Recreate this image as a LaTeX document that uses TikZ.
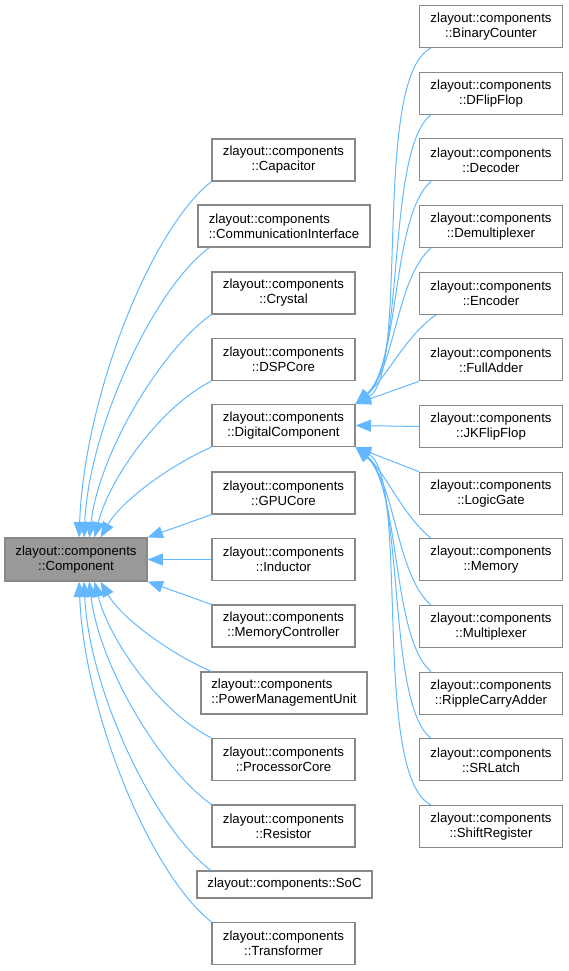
\documentclass[tikz,border=0pt]{standalone}
\usepackage{fontspec}
\setmainfont{Liberation Sans}
\usetikzlibrary{arrows.meta}

\definecolor{edgeblue}{HTML}{63B8FF}
\definecolor{boxgray}{HTML}{888888}
\definecolor{basegray}{HTML}{999999}

\tikzset{
	cls/.style={draw=boxgray, line width=0.9pt, fill=white, minimum width=107.25pt, minimum height=31.5pt, inner sep=0pt, align=center},
	inh/.style={draw=edgeblue, line width=0.75pt, -{Triangle[length=11.5pt,width=9pt]}}
}

\begin{document}
\begin{tikzpicture}[x=0.75pt, y=-0.75pt, font=\fontsize{9.9}{11.25}\selectfont]
		\useasboundingbox (0,0) rectangle (568,971);
		\node[cls, fill=basegray, minimum width=106.5pt, minimum height=32.25pt] (comp) at (76,559.5) {zlayout::components\\::Component};
		\node[cls] (cap) at (283.5,160) {zlayout::components\\::Capacitor};
		\node[cls, minimum width=129pt, align=left] (ci) at (284,226) {zlayout::components\\::CommunicationInterface};
		\node[cls] (cry) at (283.5,293) {zlayout::components\\::Crystal};
		\node[cls] (dsp) at (283.5,359.5) {zlayout::components\\::DSPCore};
		\node[cls] (dig) at (283.5,425.5) {zlayout::components\\::DigitalComponent};
		\node[cls] (gpu) at (283.5,493) {zlayout::components\\::GPUCore};
		\node[cls] (ind) at (283.5,559.5) {zlayout::components\\::Inductor};
		\node[cls] (mc) at (283.5,626) {zlayout::components\\::MemoryController};
		\node[cls, minimum width=124.5pt, align=left] (pmu) at (284,693) {zlayout::components\\::PowerManagementUnit};
		\node[cls] (pc) at (283.5,759.5) {zlayout::components\\::ProcessorCore};
		\node[cls] (res) at (283.5,826) {zlayout::components\\::Resistor};
		\node[cls, minimum width=131.25pt, minimum height=20.25pt] (soc) at (284.5,884.5) {zlayout::components::SoC};
		\node[cls] (tra) at (283.5,943.5) {zlayout::components\\::Transformer};
		\node[cls] (bc) at (491,26.5) {zlayout::components\\::BinaryCounter};
		\node[cls] (dff) at (491,93.2) {zlayout::components\\::DFlipFlop};
		\node[cls] (dec) at (491,159.8) {zlayout::components\\::Decoder};
		\node[cls] (dmx) at (491,226.5) {zlayout::components\\::Demultiplexer};
		\node[cls] (enc) at (491,293.2) {zlayout::components\\::Encoder};
		\node[cls] (fa) at (491,359.8) {zlayout::components\\::FullAdder};
		\node[cls] (jk) at (491,426.5) {zlayout::components\\::JKFlipFlop};
		\node[cls] (lg) at (491,493.2) {zlayout::components\\::LogicGate};
		\node[cls] (mem) at (491,559.8) {zlayout::components\\::Memory};
		\node[cls] (mux) at (491,626.5) {zlayout::components\\::Multiplexer};
		\node[cls] (rca) at (491,693.2) {zlayout::components\\::RippleCarryAdder};
		\node[cls] (srl) at (491,759.8) {zlayout::components\\::SRLatch};
		\node[cls] (sr) at (491,826.5) {zlayout::components\\::ShiftRegister};
		\draw[inh] (cap.south west) .. controls +(-62,49) and +(5,-138) .. (comp.82);
		\draw[inh] ([xshift=9pt]ci.south west) .. controls +(-55,40) and +(5,-110) .. (comp.70);
		\draw[inh] (cry.south west) .. controls +(-50,35) and +(10,-85) .. (comp.59);
		\draw[inh] (dsp.south west) .. controls +(-50,25) and +(15,-60) .. (comp.50);
		\draw[inh] (dig.south west) .. controls +(-45,20) and +(20,-35) .. (comp.42);
		\draw[inh] (gpu.south west) -- (comp.north east);
		\draw[inh] (ind.west) -- (comp.east);
		\draw[inh] (mc.north west) -- (comp.south east);
		\draw[inh] ([xshift=8pt]pmu.north west) .. controls +(-45,-20) and +(20,35) .. (comp.-42);
		\draw[inh] (pc.north west) .. controls +(-50,-25) and +(15,60) .. (comp.-50);
		\draw[inh] (res.north west) .. controls +(-50,-35) and +(10,85) .. (comp.-59);
		\draw[inh] ([xshift=11pt]soc.north west) .. controls +(-55,-40) and +(5,110) .. (comp.-70);
		\draw[inh] (tra.north west) .. controls +(-62,-49) and +(5,130) .. (comp.-82);
		\draw[inh] ([xshift=9pt]bc.south west) .. controls +(-60,30) and +(55,-30) .. (dig.north east);
		\draw[inh] ([xshift=9pt]dff.south west) .. controls +(-45,35) and +(50,-40) .. (dig.north east);
		\draw[inh] ([xshift=9pt]dec.south west) .. controls +(-40,35) and +(45,-40) .. (dig.north east);
		\draw[inh] ([xshift=9pt]dmx.south west) .. controls +(-35,30) and +(40,-35) .. (dig.north east);
		\draw[inh] ([xshift=13pt]enc.south west) .. controls +(-30,20) and +(30,-25) .. (dig.north east);
		\draw[inh] (fa.south west) -- (dig.north east);
		\draw[inh] (jk.west) -- (dig.east);
		\draw[inh] (lg.north west) -- (dig.south east);
		\draw[inh] ([xshift=9pt]mem.north west) .. controls +(-30,-25) and +(30,25) .. (dig.south east);
		\draw[inh] ([xshift=9pt]mux.north west) .. controls +(-35,-30) and +(40,35) .. (dig.south east);
		\draw[inh] ([xshift=9pt]rca.north west) .. controls +(-40,-35) and +(45,40) .. (dig.south east);
		\draw[inh] ([xshift=9pt]srl.north west) .. controls +(-45,-35) and +(50,40) .. (dig.south east);
		\draw[inh] ([xshift=9pt]sr.north west) .. controls +(-60,-30) and +(55,30) .. (dig.south east);
\end{tikzpicture}
\end{document}
